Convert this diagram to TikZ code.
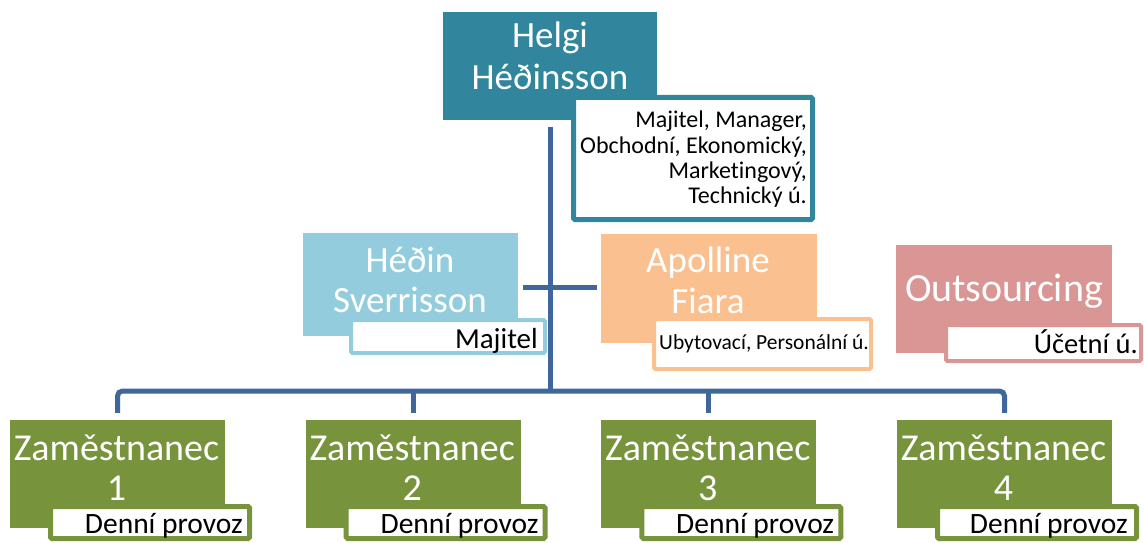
\documentclass[tikz,border=0pt]{standalone}
\usepackage{fontspec}
\setmainfont{Carlito}[Ligatures=NoCommon]
\definecolor{cteal}{HTML}{31859C}
\definecolor{clblue}{HTML}{93CDDD}
\definecolor{corange}{HTML}{FAC090}
\definecolor{cpink}{HTML}{D99694}
\definecolor{cgreen}{HTML}{77933C}
\definecolor{cline}{HTML}{3F679B}
\begin{document}
\begin{tikzpicture}[x=1pt,y=-1pt,
  mainbox/.style={draw=none,fill=#1,inner sep=0,minimum width=215pt,minimum height=108pt},
  subbox/.style={draw=#1,fill=white,line width=4pt,rounded corners=1.5pt,inner sep=0},
  conn/.style={draw=cline,line width=5pt},
  title/.style={text=white,inner sep=0,anchor=base,font=\fontsize{37}{44}\selectfont},
  zt/.style={text=white,inner sep=0,anchor=base,font=\fontsize{38}{44}\selectfont},
  subt/.style={text=black,inner sep=0,anchor=base east,font=\fontsize{#1}{#1}\selectfont},
]
\useasboundingbox (0,0) rectangle (1144,543);

% main boxes
\node[mainbox=cteal,minimum width=214pt,minimum height=108pt] (helgi) at (550,66) {};
\node[mainbox=clblue,minimum width=215pt,minimum height=103pt] (hedin) at (410.5,284.5) {};
\node[mainbox=corange,minimum width=216pt,minimum height=109pt] (apol) at (709,288.5) {};
\node[mainbox=cpink,minimum width=216pt,minimum height=108pt] (outs) at (1004,299) {};
\node[mainbox=cgreen] (z1) at (117.5,474) {};
\node[mainbox=cgreen] (z2) at (413.2,474) {};
\node[mainbox=cgreen] (z3) at (708.8,474) {};
\node[mainbox=cgreen] (z4) at (1004.5,474) {};

% connectors
\coordinate (trunktop) at ([yshift=-7pt]helgi.south);
\coordinate (bus) at (550,391);
\coordinate (hl) at (523,287.5);
\coordinate (hr) at (597,287.5);
\coordinate (d1) at ([yshift=7pt]z1.north);
\coordinate (d2) at ([yshift=7pt]z2.north);
\coordinate (d3) at ([yshift=7pt]z3.north);
\coordinate (d4) at ([yshift=7pt]z4.north);
\draw[conn] (trunktop) -- (bus);
\draw[conn] (hl) -- (hr);
\draw[conn,rounded corners=5pt] (d1) |- (bus) -| (d4);
\draw[conn] (d2) -- (d2 |- bus);
\draw[conn] (d3) -- (d3 |- bus);

% sub boxes
\node[subbox=cteal,line width=5pt,minimum width=239pt,minimum height=122pt] (helgis) at (693,158.5) {};
\node[subbox=clblue,minimum width=194pt,minimum height=33pt] (hedins) at (448,336.5) {};
\node[subbox=corange,minimum width=217pt,minimum height=50pt] (apols) at (762.5,344) {};
\node[subbox=cpink,minimum width=195pt,minimum height=36pt] (outss) at (1043.5,343) {};
\node[subbox=cgreen,line width=5pt,minimum width=199pt,minimum height=32pt] (z1s) at (150,522.5) {};
\node[subbox=cgreen,line width=5pt,minimum width=199pt,minimum height=32pt] (z2s) at (445.7,522.5) {};
\node[subbox=cgreen,line width=5pt,minimum width=199pt,minimum height=32pt] (z3s) at (741.3,522.5) {};
\node[subbox=cgreen,line width=5pt,minimum width=199pt,minimum height=32pt] (z4s) at (1037,522.5) {};

% titles
\node[title] (t1a) at (550,48) {Helgi};
\node[title] (t1b) at (550,90) {Héðinsson};
\node[title] (t2a) at (410,272) {Héðin};
\node[title] (t2b) at (410,312) {Sverrisson};
\node[title] (t3a) at (708,272) {Apolline};
\node[title] (t3b) at (708,313) {Fiara};
\node[title,font=\fontsize{40}{44}\selectfont] (t4a) at (1004,301) {Outsourcing};
\node[zt] (z1a) at (116.5,460) {Zaměstnanec};
\node[zt] (z1b) at (116.5,500) {1};
\node[zt] (z2a) at (412.2,460) {Zaměstnanec};
\node[zt] (z2b) at (412.2,500) {2};
\node[zt] (z3a) at (707.8,460) {Zaměstnanec};
\node[zt] (z3b) at (707.8,500) {3};
\node[zt] (z4a) at (1003.5,460) {Zaměstnanec};
\node[zt] (z4b) at (1003.5,500) {4};

% sub texts
\node[subt=24] (s1a) at (807,127) {Majitel, Manager,};
\node[subt=24] (s1b) at (807,153) {Obchodní, Ekonomický,};
\node[subt=24] (s1c) at (807,178) {Marketingový,};
\node[subt=24] (s1d) at (807,203) {Technický ú.};
\node[subt=29] (s2) at (538,348) {Majitel};
\node[subt=21.5] (s3) at (869,349) {Ubytovací, Personální ú.};
\node[subt=28.5] (s4) at (1138,353) {Účetní ú.};
\node[subt=29.5] (s5) at (243,533) {Denní provoz};
\node[subt=29.5] (s6) at (538.7,533) {Denní provoz};
\node[subt=29.5] (s7) at (834.3,533) {Denní provoz};
\node[subt=29.5] (s8) at (1128,533) {Denní provoz};
\end{tikzpicture}
\end{document}
